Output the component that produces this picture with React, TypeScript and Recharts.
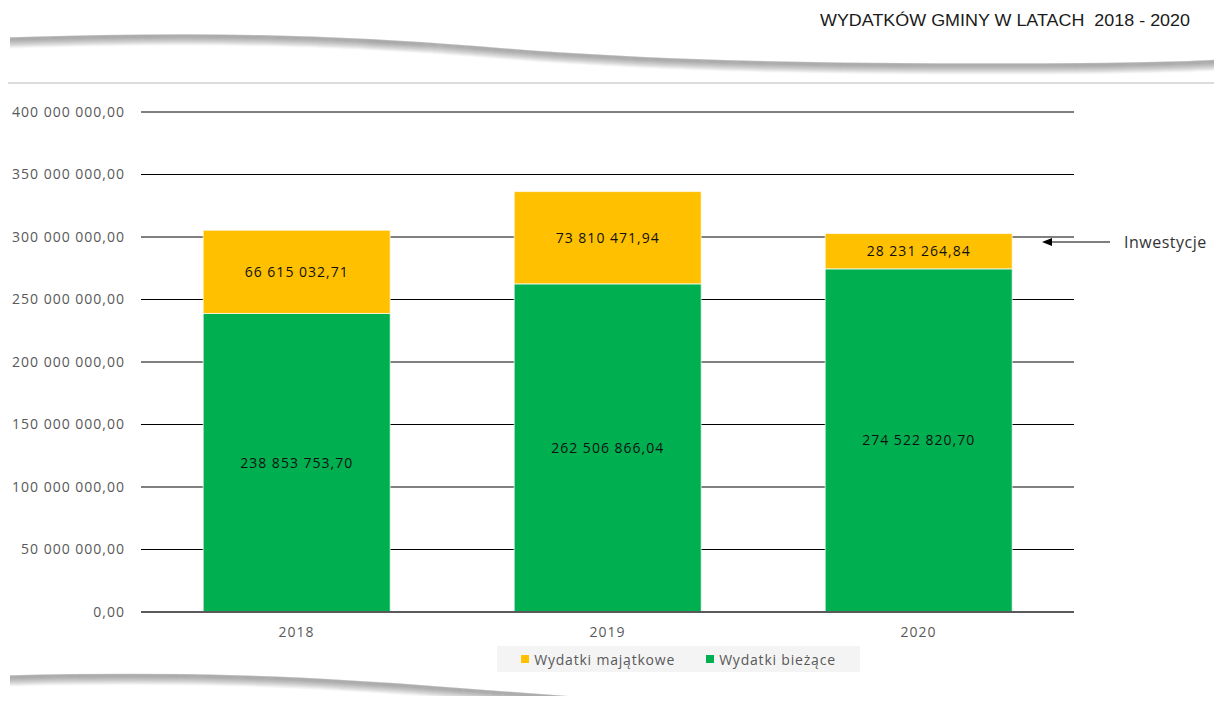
import React from "react";
import {
  BarChart,
  Bar,
  XAxis,
  YAxis,
  CartesianGrid,
  Legend,
  LabelList
} from "recharts";

const years = ["2018", "2019", "2020"];
const wydatkiBiezace = [238853753.7, 262506866.04, 274522820.7];
const wydatkiMajatkowe = [66615032.71, 73810471.94, 28231264.84];
const yTicks = [0, 50000000, 100000000, 150000000, 200000000, 250000000, 300000000, 350000000, 400000000];

const data = years.map((year, i) => ({
  year,
  biezace: wydatkiBiezace[i],
  majatkowe: wydatkiMajatkowe[i]
}));

const fmt = (v: any) => {
  const [i, d] = Number(v).toFixed(2).split(".");
  return i.replace(/\B(?=(\d{3})+(?!\d))/g, " ") + "," + d;
};

const FONT = "'Open Sans', sans-serif";

const LegendBox = ({ payload }: any) => {
  const items = [...(payload || [])].reverse();
  return (
    <div
      style={{
        background: "#f4f4f4",
        height: 26,
        display: "flex",
        alignItems: "center",
        justifyContent: "center",
        gap: 31,
        fontFamily: FONT,
        fontSize: 14,
        letterSpacing: 0.8,
        color: "#595959"
      }}
    >
      {items.map((p: any) => (
        <div key={p.value} style={{ display: "flex", alignItems: "center" }}>
          <span style={{ width: 8, height: 8, background: p.color, marginRight: 5, display: "inline-block" }} />
          {p.value}
        </div>
      ))}
    </div>
  );
};

// decorative swoosh: stacked offset strokes fading downward
const Swoosh = ({ d }: { d: string }) => (
  <g>
    {Array.from({ length: 11 }).map((_, i) => (
      <path
        key={i}
        d={d}
        transform={`translate(0 ${i})`}
        fill="none"
        stroke="#8c8c8c"
        strokeOpacity={i < 3 ? 0.6 : 0.6 - (i - 2) * 0.07}
        strokeWidth={1.5}
      />
    ))}
  </g>
);

export default function App() {
  return (
    <div style={{ position: "relative", width: 1206, height: 688, background: "#fff" }}>
      <svg
        width={1222}
        height={704}
        style={{ position: "absolute", left: -8, top: -8, pointerEvents: "none" }}
      >
        <text
          x={820}
          y={26}
          textLength={370}
          lengthAdjust="spacingAndGlyphs"
          fontFamily="'Liberation Sans Narrow', 'Liberation Sans', sans-serif"
          fontSize={16.5}
          fill="#1a1a1a"
          style={{ whiteSpace: "pre" }}
        >
          {"WYDATKÓW GMINY W LATACH\u00a0\u00a02018 - 2020"}
        </text>
        <Swoosh d="M 10 38 C 200 32, 330 35, 480 47 C 640 61, 800 64, 1000 64 C 1120 64, 1190 62, 1222 60" />
        <line x1={8} y1={83} x2={1222} y2={83} stroke="#dcdcdc" strokeWidth={2} />
        <Swoosh d="M 10 676 C 180 672, 300 676, 450 688 C 560 697, 640 702, 720 708" />
        <Swoosh d="M 1160 706 C 1190 701, 1210 699, 1222 698" />
        <line x1={1110} y1={242} x2={1050} y2={242} stroke="#000" strokeWidth={1.2} />
        <polygon points="1042,242 1052,238 1052,246" fill="#000" />
        <text x={1124} y={248} fontFamily={FONT} fontSize={16} letterSpacing={0.5} fill="#333">
          Inwestycje
        </text>
      </svg>
      <BarChart
        width={1206}
        height={688}
        data={data}
        margin={{ top: 104, right: 140, left: 0, bottom: 54 }}
        barCategoryGap="20%"
      >
        <CartesianGrid vertical={false} stroke="#000" strokeWidth={1} />
        <XAxis
          dataKey="year"
          axisLine={{ stroke: "#595959", strokeWidth: 2 }}
          tickLine={false}
          tickMargin={9}
          tick={{ fill: "#595959", fontFamily: FONT, fontSize: 14, letterSpacing: 1 }}
        />
        <YAxis
          width={133}
          domain={[0, 400000000]}
          ticks={yTicks}
          interval={0}
          axisLine={false}
          tickLine={false}
          tickMargin={10}
          tickFormatter={fmt}
          tick={{ fill: "#595959", fontFamily: FONT, fontSize: 14, letterSpacing: 1 }}
        />
        <Legend
          layout="horizontal"
          verticalAlign="middle"
          align="center"
          content={<LegendBox />}
          wrapperStyle={{ position: "absolute", top: 638, left: 489, width: 363, height: 26 }}
        />
        <Bar
          dataKey="biezace"
          name="Wydatki bieżące"
          stackId="a"
          fill="#00B050"
          stroke="#ffffff"
          strokeOpacity={0.7}
          isAnimationActive={false}
        >
          <LabelList
            dataKey="biezace"
            position="center"
            formatter={fmt}
            fill="#111"
            style={{ fontFamily: FONT, fontSize: 14, letterSpacing: 1 }}
          />
        </Bar>
        <Bar
          dataKey="majatkowe"
          name="Wydatki majątkowe"
          stackId="a"
          fill="#FFC000"
          stroke="#ffffff"
          strokeOpacity={0.7}
          isAnimationActive={false}
        >
          <LabelList
            dataKey="majatkowe"
            position="center"
            formatter={fmt}
            fill="#111"
            style={{ fontFamily: FONT, fontSize: 14, letterSpacing: 1 }}
          />
        </Bar>
      </BarChart>
    </div>
  );
}
